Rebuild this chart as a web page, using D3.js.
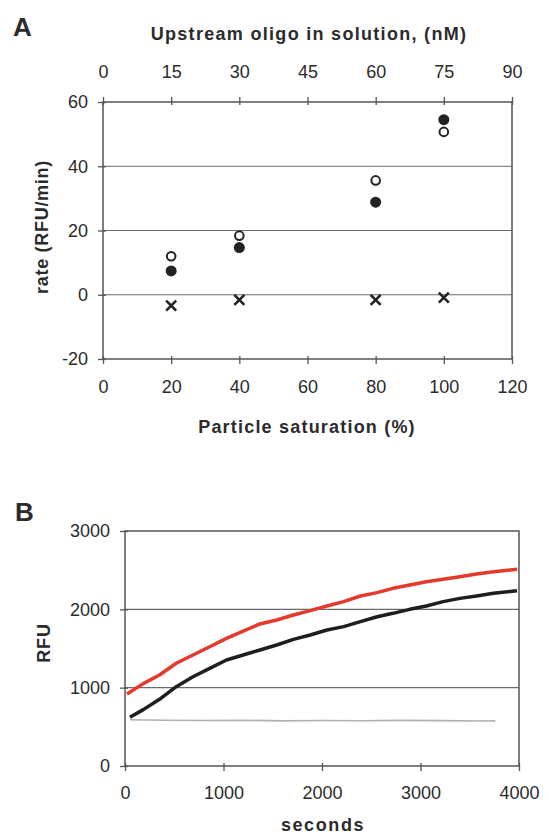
<!DOCTYPE html>
<html>
<head>
<meta charset="utf-8">
<script src="https://cdn.jsdelivr.net/npm/d3@7"></script>
<style>
  body { margin: 0; background: #fff; }
  text { font-family: "Liberation Sans", Arial, sans-serif; fill: #2b2b2b; }
  .tick text { font-size: 18px; }
  .ttl { font-size: 18px; font-weight: bold; }
  .panel { font-size: 26px; font-weight: bold; }
</style>
</head>
<body>
<div id="chart"></div>
<script>
// panel A data
var saturation = [20, 40, 80, 100];
var oligoTicks = [0, 15, 30, 45, 60, 75, 90];
var rateOpen = [12, 18.4, 35.6, 50.7];
var rateFilled = [7.4, 14.7, 28.8, 54.5];
var rateCross = [-3.4, -1.6, -1.6, -0.9];

// panel B data
var tRed = [20, 190, 350, 520, 690, 860, 1030, 1200, 1370, 1540, 1710, 1880, 2050, 2220, 2390, 2560, 2720, 2890, 3060, 3230, 3400, 3570, 3740, 3980];
var rfuRed = [919, 1055, 1162, 1311, 1417, 1523, 1630, 1723, 1813, 1864, 1928, 1983, 2043, 2098, 2170, 2213, 2268, 2311, 2353, 2383, 2417, 2451, 2481, 2511];
var tBlack = [50, 190, 350, 520, 690, 860, 1030, 1200, 1370, 1540, 1710, 1880, 2050, 2220, 2390, 2560, 2720, 2890, 3060, 3230, 3400, 3570, 3740, 3980];
var rfuBlack = [621, 723, 851, 1013, 1140, 1247, 1353, 1417, 1481, 1545, 1617, 1672, 1736, 1779, 1843, 1906, 1949, 2000, 2043, 2098, 2140, 2170, 2204, 2238];
var tGray = [50, 400, 800, 1200, 1600, 2000, 2400, 2800, 3200, 3600, 3760];
var rfuGray = [590, 585, 580, 584, 576, 580, 578, 582, 579, 574, 576];

var width = 549, height = 834;
var svg = d3.select("#chart").append("svg")
	.attr("width", width)
	.attr("height", height);

var axisColor = "#555";
var plain = function(d){ return String(d); };

function crossTicks(g, side) {
	// ticks cross the frame: 5px outside, 3px inside
	g.select(".domain").remove();
	g.selectAll(".tick line").attr("stroke", axisColor).attr("stroke-width", 1.3);
	if (side === "left") g.selectAll(".tick line").attr("x1", 3).attr("x2", -5);
	if (side === "bottom") g.selectAll(".tick line").attr("y1", -3).attr("y2", 5);
	if (side === "top") g.selectAll(".tick line").attr("y1", 3).attr("y2", -5);
}

/* ---------- panel A ---------- */
var xA = d3.scaleLinear().domain([0, 120]).range([103, 512]);
var xTop = d3.scaleLinear().domain([0, 90]).range([103, 512]);
var yA = d3.scaleLinear().domain([-20, 60]).range([359, 102]);

svg.append("text").attr("class", "panel").attr("x", 13).attr("y", 36).text("A");

// gridlines
svg.append("g").selectAll("line")
	.data([0, 20, 40])
	.enter().append("line")
	.attr("x1", xA(0)).attr("x2", xA(120))
	.attr("y1", function(d){ return yA(d); })
	.attr("y2", function(d){ return yA(d); })
	.attr("stroke", "#6a6a6a").attr("stroke-width", 1.2);

svg.append("rect")
	.attr("x", xA(0)).attr("y", yA(60))
	.attr("width", xA(120) - xA(0)).attr("height", yA(-20) - yA(60))
	.attr("fill", "none").attr("stroke", axisColor).attr("stroke-width", 1.5);

var axA1 = svg.append("g").attr("transform", "translate(" + xA(0) + ",0)")
	.call(d3.axisLeft(yA).tickValues([-20, 0, 20, 40, 60]).tickFormat(plain).tickSize(5).tickPadding(10));
crossTicks(axA1, "left");

var axA2 = svg.append("g").attr("transform", "translate(0," + yA(-20) + ")")
	.call(d3.axisBottom(xA).tickValues([0, 20, 40, 60, 80, 100, 120]).tickFormat(plain).tickSize(5));
crossTicks(axA2, "bottom");
axA2.selectAll(".tick text").attr("y", 34).attr("dy", null);

var axA3 = svg.append("g").attr("transform", "translate(0," + yA(60) + ")")
	.call(d3.axisTop(xTop).tickValues(oligoTicks).tickFormat(plain).tickSize(5));
crossTicks(axA3, "top");
axA3.selectAll(".tick text").attr("y", -24).attr("dy", null);

svg.selectAll(".tick text").attr("fill", "#2b2b2b").attr("font-size", 18)
	.attr("font-family", "'Liberation Sans', Arial, sans-serif");

svg.append("text").attr("class", "ttl")
	.attr("x", 309).attr("y", 40).attr("text-anchor", "middle")
	.style("letter-spacing", "1.3px")
	.text("Upstream oligo in solution, (nM)");

svg.append("text").attr("class", "ttl")
	.attr("x", 307).attr("y", 433).attr("text-anchor", "middle")
	.style("letter-spacing", "1.2px")
	.text("Particle saturation (%)");

svg.append("text").attr("class", "ttl")
	.attr("transform", "translate(48,227) rotate(-90)")
	.attr("text-anchor", "middle")
	.style("letter-spacing", "0.7px")
	.text("rate (RFU/min)");

// markers
svg.append("g").selectAll("circle")
	.data(saturation)
	.enter().append("circle")
	.attr("cx", function(d){ return xA(d); })
	.attr("cy", function(d, i){ return yA(rateOpen[i]); })
	.attr("r", 4.3)
	.attr("fill", "#fff").attr("stroke", "#222").attr("stroke-width", 2);

svg.append("g").selectAll("circle")
	.data(saturation)
	.enter().append("circle")
	.attr("cx", function(d){ return xA(d); })
	.attr("cy", function(d, i){ return yA(rateFilled[i]); })
	.attr("r", 5.5)
	.attr("fill", "#222");

var cross = svg.append("g").selectAll("g")
	.data(saturation)
	.enter().append("g")
	.attr("transform", function(d, i){
		return "translate(" + xA(d) + "," + yA(rateCross[i]) + ")";
	});
cross.append("path")
	.attr("d", "M-5,-5L5,5M-5,5L5,-5")
	.attr("stroke", "#222").attr("stroke-width", 2.6);

/* ---------- panel B ---------- */
var xB = d3.scaleLinear().domain([0, 4000]).range([125, 519]);
var yB = d3.scaleLinear().domain([0, 3000]).range([766, 531]);

svg.append("text").attr("class", "panel").attr("x", 15).attr("y", 521).text("B");

svg.append("g").selectAll("line")
	.data([1000, 2000])
	.enter().append("line")
	.attr("x1", xB(0)).attr("x2", xB(4000))
	.attr("y1", function(d){ return yB(d); })
	.attr("y2", function(d){ return yB(d); })
	.attr("stroke", "#6a6a6a").attr("stroke-width", 1.2);

svg.append("rect")
	.attr("x", xB(0)).attr("y", yB(3000))
	.attr("width", xB(4000) - xB(0)).attr("height", yB(0) - yB(3000))
	.attr("fill", "none").attr("stroke", axisColor).attr("stroke-width", 1.5);

var axB1 = svg.append("g").attr("transform", "translate(" + xB(0) + ",0)")
	.call(d3.axisLeft(yB).tickValues([0, 1000, 2000, 3000]).tickFormat(plain).tickSize(5).tickPadding(10));
crossTicks(axB1, "left");

var axB2 = svg.append("g").attr("transform", "translate(0," + yB(0) + ")")
	.call(d3.axisBottom(xB).tickValues([0, 1000, 2000, 3000, 4000]).tickFormat(plain).tickSize(5));
crossTicks(axB2, "bottom");
axB2.selectAll(".tick text").attr("y", 33).attr("dy", null);

svg.selectAll(".tick text").attr("fill", "#2b2b2b").attr("font-size", 18)
	.attr("font-family", "'Liberation Sans', Arial, sans-serif");

svg.append("text").attr("class", "ttl")
	.attr("x", 323).attr("y", 831).attr("text-anchor", "middle")
	.style("letter-spacing", "1.6px")
	.text("seconds");

svg.append("text").attr("class", "ttl")
	.attr("transform", "translate(50,643) rotate(-90)")
	.attr("text-anchor", "middle")
	.style("letter-spacing", "0.8px")
	.text("RFU");

var line = d3.line()
	.x(function(d){ return xB(d[0]); })
	.y(function(d){ return yB(d[1]); });

svg.append("path")
	.datum(d3.zip(tGray, rfuGray))
	.attr("d", line)
	.attr("fill", "none").attr("stroke", "#b0b0b0").attr("stroke-width", 1.6);

svg.append("path")
	.datum(d3.zip(tBlack, rfuBlack))
	.attr("d", line)
	.attr("fill", "none").attr("stroke", "#1e1e1e").attr("stroke-width", 3.5)
	.attr("stroke-linejoin", "round");

svg.append("path")
	.datum(d3.zip(tRed, rfuRed))
	.attr("d", line)
	.attr("fill", "none").attr("stroke", "#e5392c").attr("stroke-width", 3.5)
	.attr("stroke-linejoin", "round");
</script>
</body>
</html>
